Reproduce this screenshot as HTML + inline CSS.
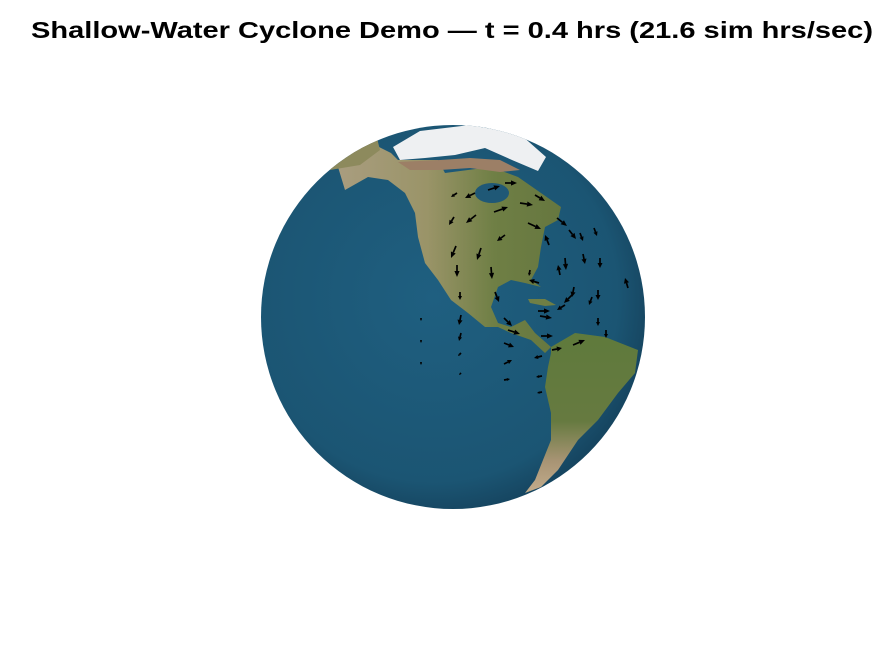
<!DOCTYPE html>
<html><head><meta charset="utf-8">
<style>
html,body{margin:0;padding:0;background:#fff;}
svg{display:block;}
</style></head>
<body>
<svg id="chart" width="875" height="656" viewBox="0 0 875 656" xmlns="http://www.w3.org/2000/svg">
<defs>
<radialGradient id="ocean" cx="0.45" cy="0.45" r="0.6">
<stop offset="0" stop-color="#1f5f80"/>
<stop offset="0.8" stop-color="#1b5573"/>
<stop offset="1" stop-color="#143f59"/>
</radialGradient>
<linearGradient id="na" x1="0" y1="0" x2="1" y2="0">
<stop offset="0" stop-color="#a99d7f"/>
<stop offset="0.4" stop-color="#9a9468"/>
<stop offset="0.7" stop-color="#6f7f45"/>
<stop offset="1" stop-color="#66773f"/>
</linearGradient>
<linearGradient id="sa" x1="0" y1="0" x2="0" y2="1">
<stop offset="0" stop-color="#5f7a3c"/>
<stop offset="0.55" stop-color="#667a40"/>
<stop offset="0.8" stop-color="#a89474"/>
<stop offset="1" stop-color="#c2ac8c"/>
</linearGradient>
<clipPath id="globeClip"><circle cx="453" cy="317" r="192"/></clipPath>
</defs>
<text x="452" y="38" text-anchor="middle" font-family="Liberation Sans, sans-serif" font-weight="bold" font-size="23" textLength="842" lengthAdjust="spacingAndGlyphs" fill="#000">Shallow-Water Cyclone Demo — t = 0.4 hrs (21.6 sim hrs/sec)</text>
<circle cx="453" cy="317" r="192" fill="url(#ocean)"/>
<g clip-path="url(#globeClip)">
<polygon fill="url(#na)" points="338,167 365,140 391,153 398,160 438,160 445,173 491,167 518,177 541,193 561,207 558,220 545,227 541,247 538,267 531,280 541,287 525,283 511,280 498,287 491,307 498,323 511,327 525,320 535,333 551,347 545,353 531,340 511,333 498,327 485,327 468,313 451,300 438,280 425,263 418,237 415,213 405,193 388,180 368,177 345,190"/>
<polygon fill="#9c7f66" points="398,162 440,160 470,158 500,160 520,170 500,172 470,168 440,170 410,170"/>
<ellipse cx="492" cy="193" rx="17" ry="10" fill="#1f5876"/>
<polygon fill="#eef0f2" points="393,147 420,131 470,125 520,134 546,157 538,171 512,160 485,148 455,155 425,158 400,160"/>
<polygon fill="#8d8a5d" points="330,170 350,135 375,130 380,150 360,165"/>
<polygon fill="#6f7f45" points="528,299 545,299 556,305 545,306 530,303"/>
<polygon fill="url(#sa)" points="551,347 575,333 605,337 638,350 635,373 618,393 598,420 578,440 558,470 541,487 525,493 535,480 551,440 551,413 545,387 548,367 551,353"/>
</g>
<g id="arrows"></g>
<script>
const arrowX = [475,488,505,535,520,457,454,476,494,528,557,569,580,594,456,481,505,549,565,583,600,457,491,530,560,574,598,628,460,495,539,572,592,538,540,565,598,461,504,508,541,552,606,461,504,542,573,461,504,542,421,421,421,461,504,542];
const arrowY = [193,190,183,195,203,193,217,215,212,223,218,230,233,228,246,248,235,245,258,254,258,265,267,270,275,287,290,288,292,292,283,295,297,311,316,305,318,315,318,330,336,350,330,333,343,356,345,353,364,376,318,340,362,373,380,392];
const arrowU = [-10,12,12,10,13,-6,-5,-10,14,13,10,7,3,3,-5,-4,-8,-4,1,2,0,0,1,-1,-2,-2,0,-3,0,4,-10,-8,-3,12,12,-8,0,-2,8,12,12,10,0,-2,10,-8,12,-3,8,-6,0,0,0,-2,6,-5];
const arrowV = [5,-4,0,6,2,4,8,8,-5,6,8,9,8,8,12,12,6,-10,12,10,10,12,12,6,-10,10,10,-10,8,10,-3,8,8,0,2,5,8,10,8,4,0,-2,8,8,4,2,-5,3,-4,1,3,3,3,2,-1,1];
const g = document.getElementById('arrows');
const NS = 'http://www.w3.org/2000/svg';
for (let i = 0; i < arrowX.length; i++) {
  const x = arrowX[i], y = arrowY[i], u = arrowU[i], v = arrowV[i];
  const len = Math.hypot(u, v) || 1;
  const ux = u / len, uy = v / len, px = -uy, py = ux;
  const ex = x + u, ey = y + v;
  const hl = Math.min(6, len * 0.5), hw = Math.min(2.6, len * 0.25);
  const line = document.createElementNS(NS, 'line');
  
  
  line.setAttribute('x1', x); line.setAttribute('y1', y);
  line.setAttribute('x2', ex - ux * hl); line.setAttribute('y2', ey - uy * hl);
  line.setAttribute('stroke', '#000'); line.setAttribute('stroke-width', '1.7');
  g.appendChild(line);
  const head = document.createElementNS(NS, 'polygon');
  
  
  const bx = ex - ux * hl, by = ey - uy * hl;
  head.setAttribute('points', ex + ',' + ey + ' ' + (bx + px * hw) + ',' + (by + py * hw) + ' ' + (bx - px * hw) + ',' + (by - py * hw));
  head.setAttribute('fill', '#000');
  g.appendChild(head);
}
</script>
</svg>
</body></html>
